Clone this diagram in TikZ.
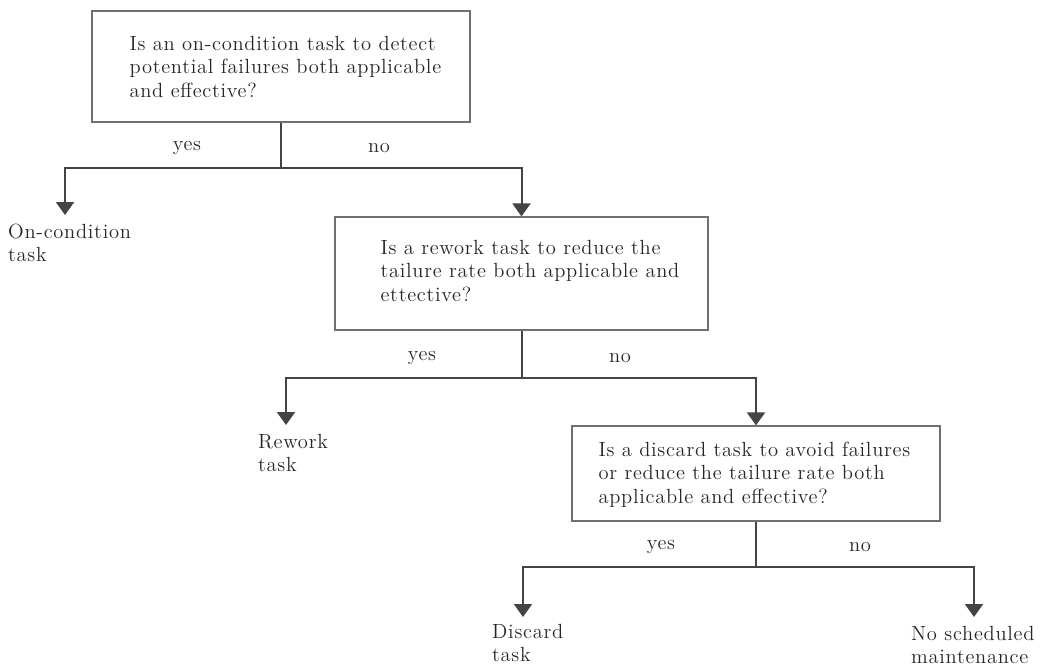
\documentclass[tikz,border=0pt]{standalone}
\usepackage{fontspec}
\usetikzlibrary{arrows.meta}
\newfontfamily\figfont{lmroman12-regular.otf}[LetterSpace=3.5]
\definecolor{inkc}{HTML}{262626}
\definecolor{linec}{HTML}{444444}
\definecolor{framec}{HTML}{707070}
\tikzset{
  qbox/.style={draw=framec, line width=1.2pt, fill=white, inner sep=0pt},
  qtext/.style={text=inkc, align=left, inner sep=0pt,
    font=\figfont\fontsize{20.5}{23.5}\selectfont},
  leaf/.style={text=inkc, align=left, inner sep=0pt, anchor=north west,
    font=\figfont\fontsize{20.5}{23}\selectfont},
  tag/.style={text=inkc, inner sep=0pt,
    font=\figfont\fontsize{20.5}{23}\selectfont},
  conn/.style={draw=linec, line width=2pt},
  arr/.style={conn, -{Triangle[width=18pt,length=13pt]}},
}
\begin{document}
\begin{tikzpicture}[x=1pt,y=-1pt]
\useasboundingbox (0,0) rectangle (1042,667);

% question boxes
\node[qbox, minimum width=378pt, minimum height=111pt] (q1) at (281,66.5) {};
\node[qtext, anchor=west] (q1t) at ([xshift=38pt]q1.west)
  {Is an on-condition task to detect\\potential failures both applicable\\and effective?};

\node[qbox, minimum width=373pt, minimum height=113pt] (q2) at (521.5,273.5) {};
\node[qtext, anchor=west] (q2t) at ([xshift=46pt,yshift=3pt]q2.west)
  {Is a rework task to reduce the\\tailure rate both applicable and\\ettective?};

\node[qbox, minimum width=368pt, minimum height=95pt] (q3) at (756,473.5) {};
\node[qtext, anchor=west] (q3t) at ([xshift=27pt,yshift=-1pt]q3.west)
  {Is a discard task to avoid failures\\or reduce the tailure rate both\\applicable and effective?};

% branch points and arrow ends
\coordinate (j1) at (281,168);
\coordinate (j2) at (521.5,378);
\coordinate (j3) at (756,567);
\coordinate (e1) at (65,215);
\coordinate (e2) at (286,425);
\coordinate (e3) at (523,617);
\coordinate (e4) at (974,617);

% outcome labels
\node[leaf] (l1) at (8,224) {On-condition\\task};
\node[leaf] (l2) at (258,434) {Rework\\task};
\node[leaf] (l3) at (492,624) {Discard\\task};
\node[leaf] (l4) at (911,626) {No scheduled\\maintenance};

% connectors
\draw[conn] (q1.south) -- (j1);
\draw[arr] (j1) -| (e1);
\draw[arr] (j1) -| (q2.north);
\draw[conn] (q2.south) -- (j2);
\draw[arr] (j2) -| (e2);
\draw[arr] (j2) -| (q3.north);
\draw[conn] (q3.south) -- (j3);
\draw[arr] (j3) -| (e3);
\draw[arr] (j3) -| (e4);

% yes / no tags
\node[tag] (y1) at (187,148) {yes};
\node[tag] (n1) at (379,148) {no};
\node[tag] (y2) at (422,358) {yes};
\node[tag] (n2) at (620,358) {no};
\node[tag] (y3) at (661,547) {yes};
\node[tag] (n3) at (860,547) {no};
\end{tikzpicture}
\end{document}
